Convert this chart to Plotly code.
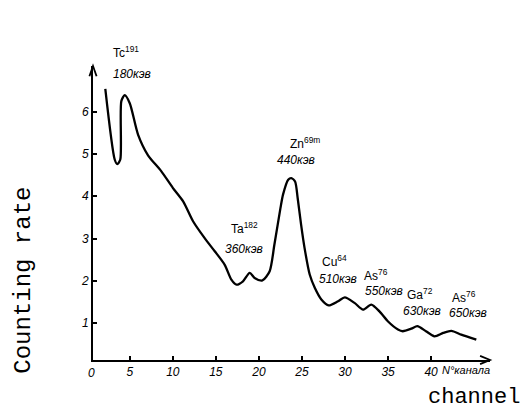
import plotly.graph_objects as go

# channel number vs counting rate
channel = [2.16, 3.25, 3.55, 3.9, 4.02, 4.41, 5.0, 5.96, 7.12, 8.63, 10.0, 11.2, 12.35,
           13.7, 14.87, 16.03, 16.8, 17.4, 18.15, 18.93, 19.5, 20.4, 21.25, 21.8, 22.5,
           22.8, 23.4, 23.76, 24.2, 24.5, 24.9, 25.3, 25.9, 26.5, 27.25, 28.1, 29.2,
           29.97, 31.1, 32.1, 33.05, 34.0, 35.0, 36.15, 36.7, 37.7, 38.4, 39.4, 40.4,
           41.4, 42.35, 43.5, 45.25]
rate = [6.54, 4.87, 4.76, 4.87, 6.25, 6.39, 6.2, 5.46, 4.97, 4.6, 4.2, 3.88, 3.41,
        3.01, 2.7, 2.38, 2.03, 1.91, 1.99, 2.19, 2.07, 2.01, 2.23, 2.86, 3.72,
        4.04, 4.39, 4.43, 4.35, 3.96, 3.33, 2.78, 2.15, 1.83, 1.56, 1.42, 1.52,
        1.61, 1.48, 1.32, 1.44, 1.28, 1.04, 0.85, 0.81, 0.87, 0.93, 0.81, 0.69,
        0.77, 0.82, 0.73, 0.61]

x_ticks = [5, 10, 15, 20, 25, 30, 35, 40]
y_ticks = [1, 2, 3, 4, 5, 6]
y_tick_text = ["1", "2", "3", "4", "5", "6"]

# peak labels: (isotope, energy, x1, y1, x2, y2)
peaks = [
    ("Ta<sup>182</sup>", "360кэв", 18.27, 3.25, 18.27, 2.75),
    ("Zn<sup>69m</sup>", "440кэв", 25.35, 5.27, 24.3, 4.86),
    ("Cu<sup>64</sup>", "510кэв", 28.8, 2.48, 29.2, 2.05),
    ("As<sup>76</sup>", "550кэв", 33.6, 2.15, 34.5, 1.77),
    ("Ga<sup>72</sup>", "630кэв", 38.7, 1.7, 38.95, 1.3),
    ("As<sup>76</sup>", "650кэв", 43.8, 1.63, 44.3, 1.23),
]

fig = go.Figure()
fig.add_trace(go.Scatter(x=channel, y=rate, mode="lines",
                         line=dict(color="black", width=2.3, shape="spline", smoothing=0.7),
                         hoverinfo="skip", showlegend=False))

label_font = dict(family="Liberation Sans Narrow, Liberation Sans, sans-serif", size=12, color="black")
ann = []
# Tc label (first line sits above the plot area)
ann.append(dict(x=0.045, y=1.047, xref="paper", yref="paper", text="Tc<sup>191</sup>",
                showarrow=False, xanchor="left", yanchor="middle", font=label_font))
ann.append(dict(x=0.045, y=0.972, xref="paper", yref="paper", text="<i>180кэв</i>",
                showarrow=False, xanchor="left", yanchor="middle", font=label_font))
for iso, en, x1, y1, x2, y2 in peaks:
    ann.append(dict(x=x1, y=y1, xref="x", yref="y", text=iso, showarrow=False,
                    xanchor="center", yanchor="middle", font=label_font))
    ann.append(dict(x=x2, y=y2, xref="x", yref="y", text="<i>" + en + "</i>", showarrow=False,
                    xanchor="center", yanchor="middle", font=label_font))

ann.append(dict(x=0.874, y=-0.034, xref="paper", yref="paper", text="<i>N°канала</i>",
                showarrow=False, xanchor="left", yanchor="middle",
                font=dict(family="Liberation Sans Narrow, Liberation Sans", size=11, color="black")))
ann.append(dict(x=-0.005, y=-0.044, xref="paper", yref="paper", text="<i>0</i>",
                showarrow=False, xanchor="center", yanchor="middle",
                font=dict(family="Liberation Sans", size=12, color="black")))
ann.append(dict(x=-0.176, y=0.27, xref="paper", yref="paper", text="Counting rate",
                textangle=-90, showarrow=False, xanchor="center", yanchor="middle",
                font=dict(family="Liberation Mono, Courier New, monospace", size=24, color="black")))
ann.append(dict(x=0.96, y=-0.128, xref="paper", yref="paper", text="channel",
                showarrow=False, xanchor="center", yanchor="middle",
                font=dict(family="Liberation Mono, Courier New, monospace", size=22, color="black")))

# axis arrowheads as small open chevrons (paper coordinates)
shapes = [
    dict(type="path", xref="paper", yref="paper",
         path="M -0.009,0.965 L 0,1.0 L 0.009,0.965",
         line=dict(color="black", width=1.8)),
    dict(type="path", xref="paper", yref="paper",
         path="M 0.975,0.014 L 1.0,0 L 0.975,-0.014",
         line=dict(color="black", width=1.8)),
]

tick_font = dict(family="Liberation Sans", size=12, color="black", style="italic")
fig.update_layout(
    width=530, height=410,
    margin=dict(l=85, r=48, t=58, b=58),
    paper_bgcolor="white", plot_bgcolor="white",
    annotations=ann, shapes=shapes,
    xaxis=dict(range=[0.73, 46.84], tickvals=x_ticks, ticktext=[str(v) for v in x_ticks],
               ticks="inside", ticklen=4, tickwidth=1.5, tickcolor="black",
               showline=True, linecolor="black", linewidth=2, showgrid=False, zeroline=False,
               tickfont=tick_font),
    yaxis=dict(range=[0.13, 7.08], tickvals=y_ticks, ticktext=y_tick_text,
               ticks="inside", ticklen=4, tickwidth=1.5, tickcolor="black",
               showline=True, linecolor="black", linewidth=2, showgrid=False, zeroline=False,
               tickfont=tick_font),
)

fig.write_html("out.html")
